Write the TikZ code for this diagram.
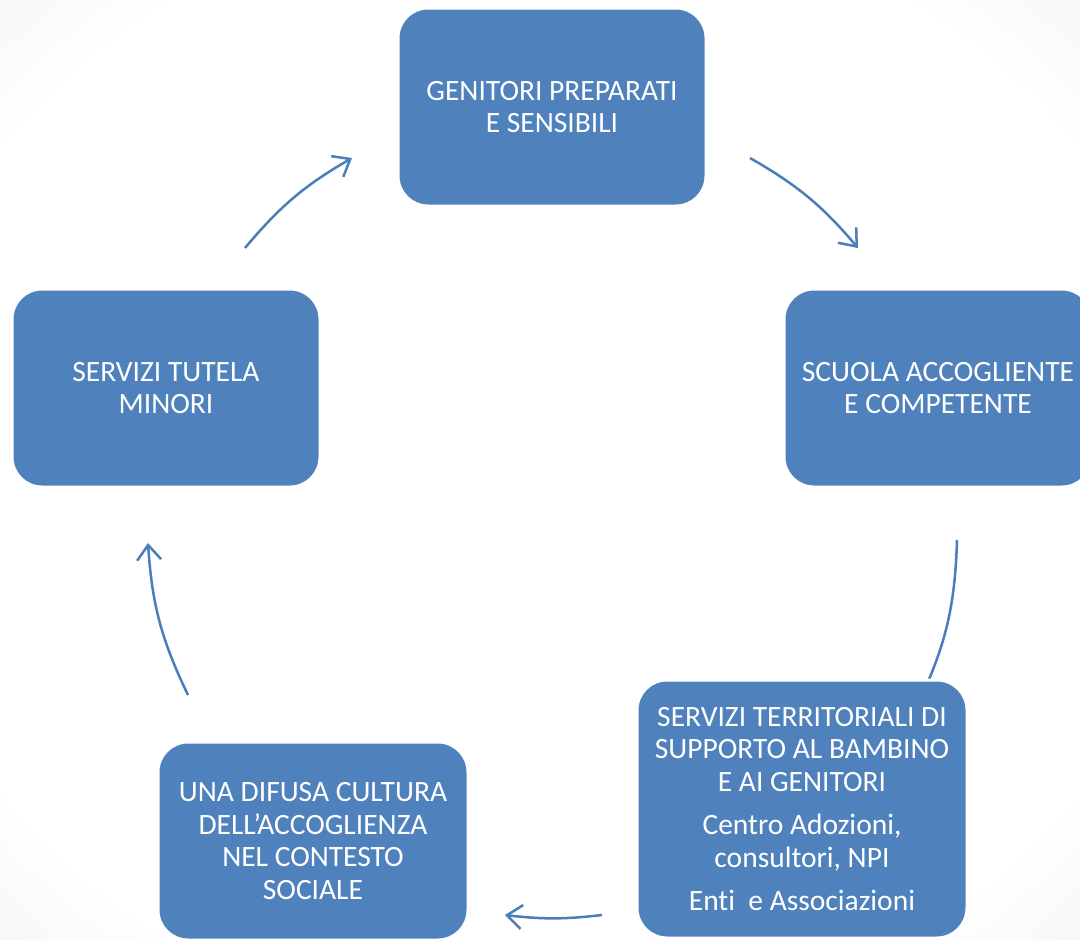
\documentclass[tikz,border=0pt]{standalone}
\usepackage{fontspec}
\setmainfont{Carlito}[Ligatures=NoCommon]
\usetikzlibrary{arrows.meta}
\definecolor{boxblue}{HTML}{4F81BD}
\definecolor{arrowblue}{HTML}{4A7EBB}
\pgfdeclareradialshading{bgshade}{\pgfpoint{0bp}{0bp}}{color(0bp)=(white); color(30bp)=(white); color(50bp)=(black!11); color(71bp)=(black!26)}
\pgfdeclarelayer{bglayer}
\pgfdeclarelayer{arrowlayer}
\pgfsetlayers{bglayer,arrowlayer,main}
\tikzset{
  stagebox/.style={draw=white, line width=3pt, fill=boxblue, rounded corners=30pt,
    text=white, align=center, font=\fontsize{29.5}{32.5}\selectfont, inner sep=0pt},
  cyclearrow/.style={draw=arrowblue, line width=2.5pt,
    -{Straight Barb[length=15pt,width=24pt,line width=2.5pt]}}
}
\begin{document}
\begin{tikzpicture}[x=1pt,y=1pt]
\useasboundingbox (0,0) rectangle (1080,-940);
\begin{pgfonlayer}{bglayer}
  \shade[shading=bgshade] (0,0) rectangle (1080,-940);
\end{pgfonlayer}

\node[stagebox, minimum width=308pt, minimum height=198pt] (gen) at (552,-107) {GENITORI PREPARATI\\E SENSIBILI};
\node[stagebox, minimum width=308pt, minimum height=198pt] (scu) at (938,-388) {SCUOLA ACCOGLIENTE\\E COMPETENTE};
\node[stagebox, minimum width=308pt, minimum height=198pt] (tut) at (166,-388) {SERVIZI TUTELA\\MINORI};
\node[stagebox, minimum width=310pt, minimum height=198pt] (dif) at (313,-841) {UNA DIFUSA CULTURA\\DELL’ACCOGLIENZA\\NEL CONTESTO\\SOCIALE};
\node[stagebox, minimum width=330pt, minimum height=258pt] (ter) at (802,-809) {SERVIZI TERRITORIALI DI\\SUPPORTO AL BAMBINO\\E AI GENITORI\\[11pt]Centro Adozioni,\\consultori, NPI\\[11pt]Enti\ \ e Associazioni};

\coordinate (a1s) at (245,-248);
\coordinate (a1e) at (352,-158);
\coordinate (a2s) at (750,-158);
\coordinate (a2e) at (858,-248);
\coordinate (a3s) at (957,-540);
\coordinate (a3e) at (919,-702);
\coordinate (a4s) at (602,-915);
\coordinate (a4e) at (505,-915);
\coordinate (a5s) at (188,-695);
\coordinate (a5e) at (148,-543);

\begin{pgfonlayer}{arrowlayer}
  \draw[cyclearrow] (a1s) to[bend left=10] (a1e);
  \draw[cyclearrow] (a2s) to[bend left=10] (a2e);
  \draw[cyclearrow] (a3s) to[bend left=11.5] (a3e);
  \draw[cyclearrow] (a4s) to[bend left=6.7] (a4e);
  \draw[cyclearrow] (a5s) to[bend left=11] (a5e);
\end{pgfonlayer}
\end{tikzpicture}
\end{document}
